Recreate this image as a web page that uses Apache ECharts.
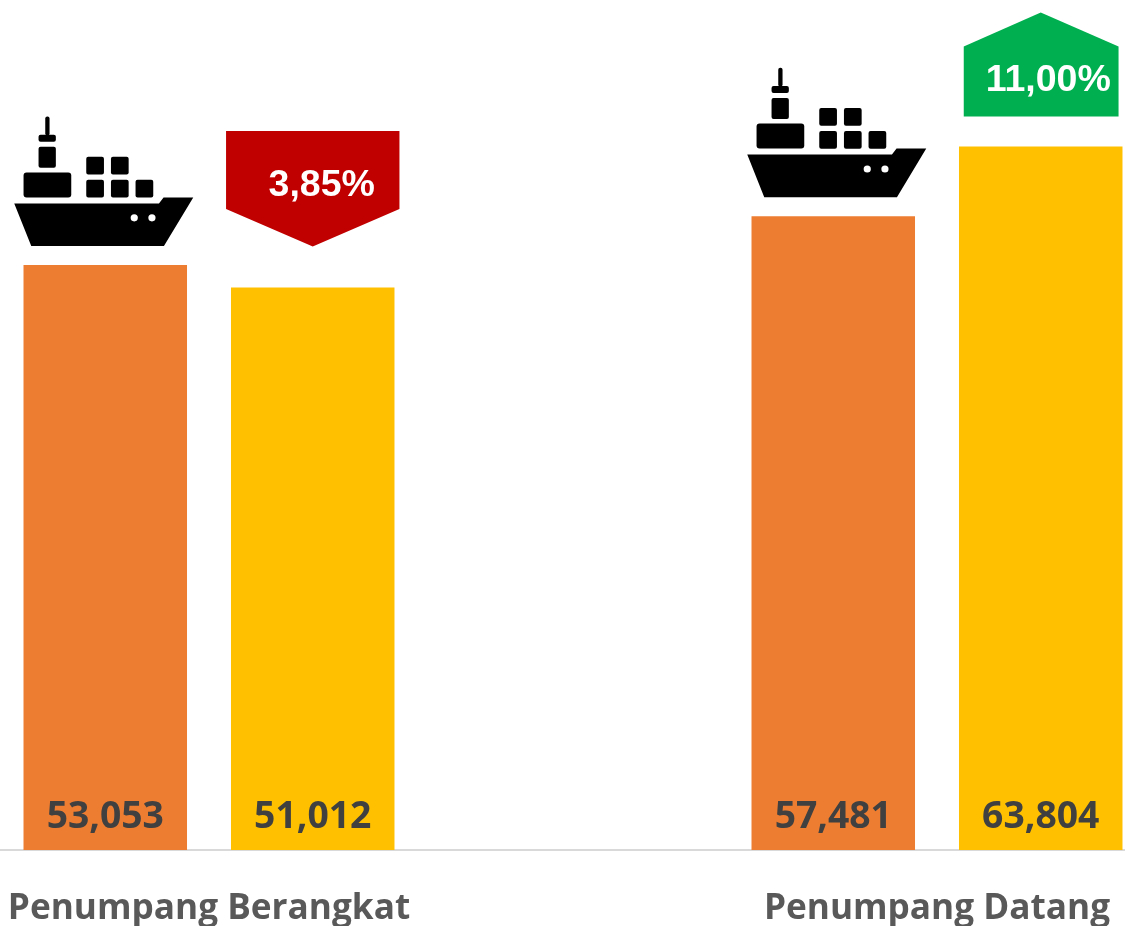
<!DOCTYPE html>
<html>
<head>
<meta charset="utf-8">
<style>html,body{margin:0;padding:0;background:#fff}#c{width:1125px;height:926px}</style>
<script src="https://cdn.jsdelivr.net/npm/echarts@6/dist/echarts.min.js"></script>
</head>
<body>
<div id="c"></div>
<script>
const categories = ['Penumpang Berangkat', 'Penumpang Datang'];
const previousValues = [53053, 57481];
const currentValues = [51012, 63804];
const changeLabels = ['3,85%', '11,00%'];
const changeDirections = ['down', 'up'];

const FONT = '"Open Sans", sans-serif';
const BAR_W = 163.5;
const BAR_OFFSET = 103.75;

function rr(x, y, w, h, r) {
  return { type: 'rect', shape: { x, y, width: w, height: h, r: r || 3 }, style: { fill: '#000' } };
}
// Ship is drawn relative to the top centre of its bar
function shipChildren() {
  return [
    rr(-60, -148.5, 4.3, 19, 2),
    rr(-66.7, -130.3, 17.3, 7, 2),
    rr(-66.7, -118.3, 17.3, 21, 2),
    rr(-81.7, -92.7, 47.7, 25, 3),
    rr(-19, -108.3, 17.7, 17.7, 2),
    rr(5.7, -108.3, 17.7, 17.7, 2),
    rr(-19, -85.3, 17.7, 17.7, 2),
    rr(5.7, -85.3, 17.7, 17.7, 2),
    rr(30.3, -85.3, 17.7, 17.7, 2),
    { type: 'polygon', shape: { points: [[-91, -61.7], [53.7, -61.7], [58.3, -67.7], [88, -67.7], [58.7, -19], [-74, -19]] }, style: { fill: '#000' } },
    { type: 'circle', shape: { cx: 29, cy: -47.3, r: 3.6 }, style: { fill: '#fff' } },
    { type: 'circle', shape: { cx: 46.7, cy: -47.3, r: 3.6 }, style: { fill: '#fff' } }
  ];
}
function badgeShape(dir) {
  return dir === 'down'
    ? { points: [[-86.7, -156.7], [86.7, -156.7], [86.7, -78.7], [0, -41], [-86.7, -78.7]], fill: '#C00000', tx: 9, ty: -102 }
    : { points: [[0, -134], [77.8, -100], [77.8, -30], [-77, -30], [-77, -100]], fill: '#00B050', tx: 7.5, ty: -66 };
}

const option = {
  animation: false,
  backgroundColor: '#fff',
  grid: { left: -155, right: -176, top: 0, bottom: 76, containLabel: false, outerBoundsMode: 'none' },
  xAxis: {
    type: 'category',
    data: categories,
    axisTick: { show: false },
    axisLine: { show: true, lineStyle: { color: '#D9D9D9', width: 2 } },
    axisLabel: { color: '#595959', fontFamily: FONT, fontWeight: 'bold', fontSize: 35.2, margin: 41, interval: 0 }
  },
  yAxis: { type: 'value', min: 0, max: 77100, show: false, splitLine: { show: false } },
  series: [
    {
      type: 'bar', data: previousValues, barWidth: BAR_W, barGap: '26.9%',
      itemStyle: { color: '#ED7D31' },
      label: { show: true, position: 'insideBottom', distance: 14, color: '#404040', fontFamily: FONT, fontWeight: 'bold', fontSize: 37.3,
        formatter: p => p.value.toLocaleString('en-US') }
    },
    {
      type: 'bar', data: currentValues, barWidth: BAR_W,
      itemStyle: { color: '#FFC000' },
      label: { show: true, position: 'insideBottom', distance: 14, color: '#404040', fontFamily: FONT, fontWeight: 'bold', fontSize: 37.3,
        formatter: p => p.value.toLocaleString('en-US') }
    },
    {
      type: 'custom', silent: true, clip: false,
      data: previousValues.map((v, i) => [i, v]),
      encode: { x: 0, y: 1 },
      renderItem: (params, api) => {
        const i = api.value(0);
        const c = api.coord([i, api.value(1)]);
        return { type: 'group', x: c[0] - BAR_OFFSET + (i === 1 ? 5 : 0), y: c[1], children: shipChildren() };
      }
    },
    {
      type: 'custom', silent: true, clip: false,
      data: currentValues.map((v, i) => [i, v]),
      encode: { x: 0, y: 1 },
      renderItem: (params, api) => {
        const i = api.value(0);
        const c = api.coord([i, api.value(1)]);
        const b = badgeShape(changeDirections[i]);
        return {
          type: 'group', x: c[0] + BAR_OFFSET, y: c[1],
          children: [
            { type: 'polygon', shape: { points: b.points }, style: { fill: b.fill } },
            { type: 'text', x: b.tx, y: b.ty, style: { text: changeLabels[i], fill: '#fff', font: 'bold 37.5px "Liberation Sans", Arial, sans-serif', textAlign: 'center', textVerticalAlign: 'middle' } }
          ]
        };
      }
    }
  ]
};
echarts.init(document.getElementById('c'), null, { renderer: 'canvas' }).setOption(option);
</script>
</body>
</html>
